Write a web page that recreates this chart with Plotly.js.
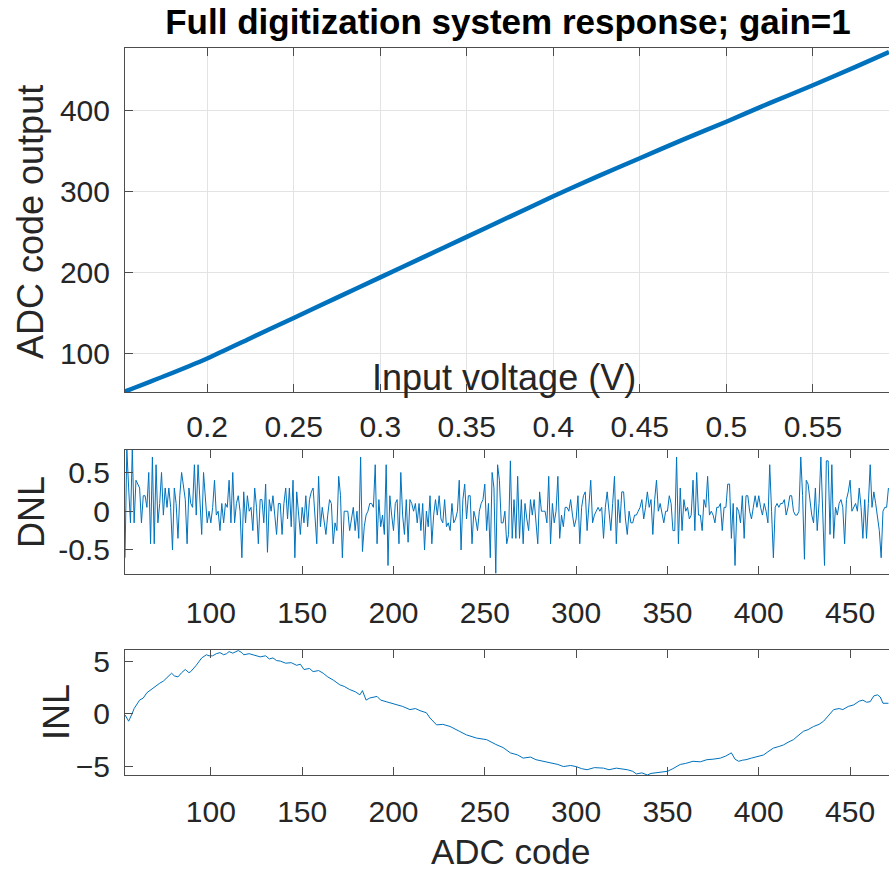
<!DOCTYPE html>
<html>
<head>
<meta charset="utf-8">
<script src="https://cdn.plot.ly/plotly-3.0.1.min.js"></script>
<style>html,body{margin:0;padding:0;background:#fff;}#chart{width:889px;height:873px;}</style>
</head>
<body>
<div id="chart"></div>
<script>
// ---- Top panel: transfer function ----
const inputVoltage = [0.151, 0.175, 0.2, 0.225, 0.25, 0.275, 0.3, 0.325, 0.35, 0.375, 0.4, 0.425, 0.45, 0.475, 0.5, 0.525, 0.55, 0.575, 0.594];
const adcOutput    = [52, 72, 94, 119, 144, 169, 194, 219, 244, 269, 294, 318, 341, 364, 386, 409, 431, 454, 472];
const voltTicks = [0.2, 0.25, 0.3, 0.35, 0.4, 0.45, 0.5, 0.55];
const voltTickText = ["0.2", "0.25", "0.3", "0.35", "0.4", "0.45", "0.5", "0.55"];
const codeTicksTop = [100, 200, 300, 400];

// ---- DNL panel: one value per code, starting at code 53 ----
const dnlStartCode = 53;
const dnl = [
-0.6,0.8,0.3,-0.15,0.8,-0.15,0.4,0.35,0.3,-0.15,0.2,0.2,0.05,0.5,-0.42,0.7,-0.42,0.6,-0.15,0.1,
0.5,-0.05,0.3,0.05,0.3,0.05,-0.5,0.3,0.1,-0.35,0.2,0.5,0.3,0.15,-0.42,0.3,0.1,0.05,0.6,-0.05,
0.6,0.1,-0.3,0.5,0.1,-0.15,0.0,-0.15,0.05,0.4,-0.05,0.0,-0.25,0.1,-0.15,0.1,0.05,0.4,-0.15,0.5,
-0.15,0.1,0.2,0.0,-0.6,0.25,-0.15,0.2,0.0,0.05,-0.25,0.3,0.05,-0.42,0.15,0.15,-0.15,0.35,-0.53,0.15,
0.0,0.2,-0.05,-0.3,0.1,0.1,-0.3,0.1,0.3,-0.1,0.3,-0.2,0.4,-0.6,0.25,0.0,-0.3,0.05,-0.15,0.2,
-0.2,0.15,0.25,0.3,-0.1,-0.42,0.45,-0.2,0.05,-0.15,-0.3,-0.05,0.15,0.1,-0.42,-0.15,-0.25,0.45,0.2,-0.6,
0.0,0.0,0.0,-0.25,-0.1,0.05,-0.25,0.0,-0.35,0.7,-0.52,-0.2,-0.05,0.0,0.1,0.1,0.05,0.6,-0.42,0.15,
-0.2,-0.05,-0.3,0.6,-0.7,0.2,-0.05,-0.25,0.1,0.15,-0.42,0.5,-0.05,-0.3,0.15,-0.4,0.15,0.1,0.0,0.1,
-0.15,0.1,-0.25,0.1,-0.5,0.0,-0.2,0.2,-0.42,-0.05,0.15,-0.05,0.2,-0.1,-0.15,0.15,-0.2,-0.15,-0.25,0.1,
-0.15,-0.1,0.0,0.4,-0.5,0.15,0.35,-0.1,0.2,0.2,-0.42,0.0,-0.1,-0.25,0.0,0.1,0.15,0.35,-0.25,0.1,
-0.6,0.5,0.3,-0.8,0.6,0.4,-0.15,-0.15,0.0,-0.42,-0.3,0.65,-0.35,0.15,-0.35,0.45,-0.35,0.15,-0.42,0.1,
-0.1,-0.25,0.15,-0.05,0.15,-0.1,-0.42,0.25,0.0,0.0,0.0,-0.15,0.45,-0.42,0.1,-0.15,0.0,0.45,-0.35,-0.05,
-0.2,0.05,0.05,0.0,0.15,-0.05,-0.2,-0.1,0.2,-0.42,0.05,0.2,0.25,-0.25,0.1,0.4,-0.15,-0.05,0.0,0.05,
0.0,0.05,-0.35,0.05,0.25,-0.05,-0.25,0.1,0.45,-0.42,0.15,-0.15,0.25,0.25,-0.1,-0.3,0.0,-0.15,-0.15,-0.05,
-0.05,0.0,0.05,0.15,-0.1,0.05,0.25,0.05,0.15,-0.3,0.15,0.4,0.0,0.1,-0.05,-0.15,0.0,0.0,0.2,0.1,
-0.25,-0.25,0.7,-0.42,0.3,-0.25,0.15,0.0,0.05,-0.1,-0.05,0.4,-0.25,0.5,-0.05,-0.05,-0.25,0.15,0.05,0.45,
-0.05,0.0,-0.05,-0.15,0.05,0.05,0.1,-0.25,0.05,0.05,0.35,0.35,-0.35,0.1,-0.7,0.05,0.0,-0.15,0.2,-0.35,
0.2,0.2,0.0,-0.1,0.05,0.2,0.05,0.2,0.05,-0.05,0.1,0.0,-0.15,0.6,0.0,-0.6,0.05,0.1,0.05,0.1,
0.1,0.15,-0.05,0.05,0.2,0.2,0.0,-0.05,-0.05,0.0,0.7,0.2,-0.62,0.4,0.35,0.1,-0.05,-0.15,0.3,-0.25,
0.1,0.7,-0.05,-0.7,0.65,0.65,-0.3,0.6,-0.35,0.05,-0.05,0.1,0.15,0.05,-0.42,0.15,0.25,0.4,0.0,0.05,
0.1,0.0,0.3,0.05,-0.35,0.15,-0.35,0.1,0.6,0.05,0.25,0.1,-0.05,-0.25,-0.6,0.0,0.05,0.05,0.3
];
const dnlCodes = dnl.map((_, i) => dnlStartCode + i);
const dnlTicks = [-0.5, 0, 0.5];
const dnlTickText = ["-0.5", "0", "0.5"];

// ---- INL panel ----
const inlCodes = [53, 55, 57, 58, 61, 63, 65, 68, 70, 72, 74, 76, 78.5, 80, 82, 84, 86, 88, 89, 92,
  95, 97.6, 99, 101, 103, 105, 107, 108.6, 110, 112, 114, 115, 117, 118, 121, 123, 125, 127, 130, 132,
  134, 136, 138, 141, 144, 147, 149, 151, 154, 156, 159, 161.5, 164, 167, 170.6, 173, 176, 179, 181.6, 183,
  185, 187, 191, 193, 196, 199, 201.7, 205, 209, 212, 214.5, 218, 220, 223.6, 227, 231, 236, 240, 245.5, 251,
  256, 260, 264, 268, 271, 275, 278, 282, 286, 290, 293, 297, 300, 303, 306, 310, 315, 318, 322, 325,
  328, 331, 333, 336, 339, 341, 344, 347, 350, 353, 357, 360, 364, 368, 371.6, 375, 379, 382, 385, 387,
  389, 391, 393, 396, 399, 402.6, 405, 408, 411, 413.5, 416, 419, 422, 424.5, 427, 430, 433, 435.5, 438, 441,
  444, 446, 449, 452, 455, 457, 459, 461, 463, 465, 466.5, 468, 471];
const inl = [-0.1, -0.7, 0.05, 0.5, 1.3, 1.5, 2.0, 2.4, 2.6, 2.9, 3.1, 3.4, 3.85, 3.6, 3.5, 3.9, 4.2, 3.9, 4.0, 4.6,
  5.3, 5.6, 5.5, 5.5, 5.7, 5.8, 5.6, 5.7, 5.9, 5.75, 5.9, 6.0, 5.8, 5.6, 5.7, 5.6, 5.5, 5.4, 5.5, 5.2,
  5.3, 5.05, 5.0, 4.8, 4.85, 4.6, 4.7, 4.2, 4.3, 4.0, 4.1, 3.85, 3.5, 3.2, 2.75, 2.6, 2.3, 2.1, 1.8, 2.2,
  1.3, 1.5, 1.65, 1.3, 1.15, 1.0, 0.85, 0.7, 0.4, 0.5, 0.3, 0.1, -0.4, -1.05, -1.0, -1.2, -1.65, -2.0, -2.3, -2.45,
  -2.9, -3.2, -3.7, -3.9, -4.2, -4.1, -4.35, -4.5, -4.65, -4.8, -5.0, -4.9, -5.0, -5.2, -5.3, -5.1, -5.15, -5.3, -5.15, -5.2,
  -5.3, -5.45, -5.7, -5.6, -5.8, -5.65, -5.6, -5.5, -5.45, -5.2, -4.8, -4.7, -4.5, -4.55, -4.35, -4.3, -4.2, -4.0, -3.7, -4.3,
  -4.5, -4.4, -4.35, -4.2, -4.05, -3.9, -3.6, -3.25, -3.1, -2.95, -2.7, -2.45, -2.0, -1.65, -1.5, -1.2, -1.0, -0.7, -0.2, 0.4,
  0.5, 0.4, 0.7, 0.85, 1.2, 1.3, 1.1, 1.15, 1.7, 1.8, 1.6, 1.0, 1.0];
const inlTicks = [-5, 0, 5];
const codeTicks = [100, 150, 200, 250, 300, 350, 400, 450];

const W = 889, H = 873;
const blue = '#0072BD';
const axCol = '#4d4d4d';
const txtCol = '#262626';
const FONT = 'Liberation Sans, Arial, Helvetica, sans-serif';
const tickFont = {family: FONT, size: 30, color: txtCol};
const xDom = [125 / W, 1];
const ydom = (top, bot) => [(H - bot) / H, (H - top) / H];

const traces = [
  {x: inputVoltage, y: adcOutput, type: 'scatter', mode: 'lines', line: {color: blue, width: 4.5, shape: 'spline', smoothing: 0.8}, xaxis: 'x', yaxis: 'y', hoverinfo: 'skip'},
  {x: dnlCodes, y: dnl, type: 'scatter', mode: 'lines', line: {color: blue, width: 1}, xaxis: 'x2', yaxis: 'y2', hoverinfo: 'skip'},
  {x: inlCodes, y: inl, type: 'scatter', mode: 'lines', line: {color: blue, width: 1}, xaxis: 'x3', yaxis: 'y3', hoverinfo: 'skip'}
];

function xa(extra) {
  return Object.assign({domain: xDom, showline: true, linecolor: axCol, linewidth: 1, ticks: 'inside', ticklen: 8,
    tickcolor: axCol, mirror: 'ticks', tickfont: tickFont, zeroline: false, showgrid: false, ticklabelstandoff: 12,
    fixedrange: true}, extra);
}
function ya(extra) {
  return Object.assign({showline: true, linecolor: axCol, linewidth: 1, ticks: 'inside', ticklen: 8,
    tickcolor: axCol, mirror: false, tickfont: tickFont, zeroline: false, showgrid: false, ticklabelstandoff: 8,
    fixedrange: true}, extra);
}

const layout = {
  width: W, height: H,
  margin: {l: 0, r: 0, t: 0, b: 0},
  paper_bgcolor: '#fff', plot_bgcolor: '#fff',
  showlegend: false,
  title: {text: 'Full digitization system response; gain=1', font: {family: FONT, size: 35, color: '#000', weight: 'bold'},
    x: 508 / W, xanchor: 'center', xref: 'paper', y: 1 - 22 / H, yanchor: 'middle', yref: 'container'},
  xaxis: xa({anchor: 'y', range: [0.1525, 0.594], tickvals: voltTicks, ticktext: voltTickText, showgrid: true, gridcolor: '#e3e3e3', gridwidth: 1, ticklabelstandoff: 8}),
  yaxis: ya({anchor: 'x', domain: ydom(48, 392), range: [52.6, 477], tickvals: codeTicksTop, showgrid: true, gridcolor: '#e3e3e3', gridwidth: 1}),
  xaxis2: xa({anchor: 'y2', range: [53, 471.3], tickvals: codeTicks}),
  yaxis2: ya({anchor: 'x2', domain: ydom(450, 574), range: [-0.81, 0.79], tickvals: dnlTicks, ticktext: dnlTickText}),
  xaxis3: xa({anchor: 'y3', range: [53, 471.3], tickvals: codeTicks, ticklabelstandoff: 10}),
  yaxis3: ya({anchor: 'x3', domain: ydom(650, 775), range: [-5.8, 6.05], tickvals: inlTicks}),
  annotations: [
    {text: 'Input voltage (V)', xref: 'paper', yref: 'paper', x: 504 / W, y: (H - 377) / H, xanchor: 'center', yanchor: 'middle', showarrow: false, font: {family: FONT, size: 36, color: txtCol}},
    {text: 'ADC code output', xref: 'paper', yref: 'paper', x: 30 / W, y: (H - 222) / H, xanchor: 'center', yanchor: 'middle', textangle: -90, showarrow: false, font: {family: FONT, size: 36, color: txtCol}},
    {text: 'DNL', xref: 'paper', yref: 'paper', x: 31 / W, y: (H - 512) / H, xanchor: 'center', yanchor: 'middle', textangle: -90, showarrow: false, font: {family: FONT, size: 36, color: txtCol}},
    {text: 'INL', xref: 'paper', yref: 'paper', x: 56 / W, y: (H - 712) / H, xanchor: 'center', yanchor: 'middle', textangle: -90, showarrow: false, font: {family: FONT, size: 36, color: txtCol}},
    {text: 'ADC code', xref: 'paper', yref: 'paper', x: 511 / W, y: (H - 851) / H, xanchor: 'center', yanchor: 'middle', showarrow: false, font: {family: FONT, size: 35, color: txtCol}}
  ]
};

Plotly.newPlot('chart', traces, layout, {staticPlot: true, displayModeBar: false});
</script>
</body>
</html>
